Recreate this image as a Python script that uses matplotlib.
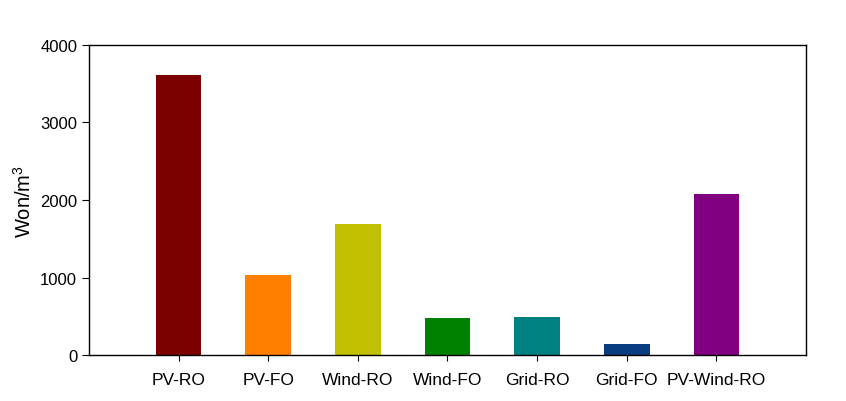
import numpy as np
import matplotlib.pyplot as plt

plt.rcParams['font.family'] = ['Liberation Sans', 'DejaVu Sans']
plt.rcParams['mathtext.fontset'] = 'custom'
plt.rcParams['mathtext.rm'] = 'Liberation Sans'

categories = ['PV-RO', 'PV-FO', 'Wind-RO', 'Wind-FO', 'Grid-RO', 'Grid-FO', 'PV-Wind-RO']
values = [3617, 1030, 1690, 477, 486, 142, 2077]
colors = ['#7b0000', '#ff8000', '#c0c000', '#008000', '#008080', '#0a3c80', '#800080']

fig = plt.figure(figsize=(8.46, 4.02), dpi=100)
ax = fig.add_axes([0.1052, 0.1144, 0.8475, 0.7712])

x = np.arange(len(categories))
ax.bar(x, values, width=0.51, color=colors)

ax.set_xlim(-1, 7)
ax.set_ylim(0, 4000)
ax.set_yticks([0, 1000, 2000, 3000, 4000])
ax.set_xticks(x)
ax.set_xticklabels(categories)
ax.tick_params(axis='y', labelsize=12, direction='out', length=5)
ax.tick_params(axis='x', labelsize=12.5, direction='out', length=4, pad=8)
ax.set_ylabel(r'Won/m$^{\mathrm{3}}$', fontsize=14.5, labelpad=4)

for s in ax.spines.values():
    s.set_linewidth(1.0)

fig.savefig('out.png', dpi=100)
